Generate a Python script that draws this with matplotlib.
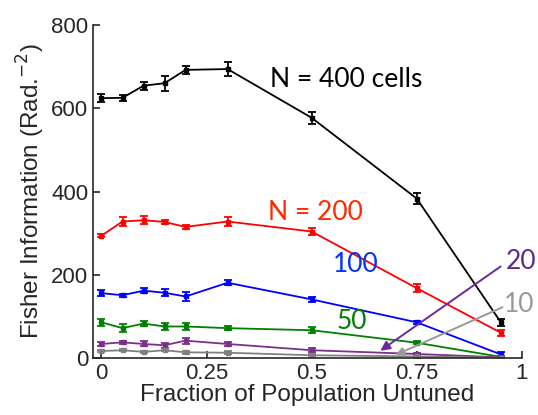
import matplotlib
matplotlib.use('Agg')
import matplotlib.pyplot as plt

frac_untuned = [0, 0.05, 0.1, 0.15, 0.2, 0.3, 0.5, 0.75, 0.95]

fi_400 = [624, 625, 654, 660, 692, 694, 577, 383, 86]
err_400 = [9, 7, 10, 18, 9, 16, 14, 14, 9]
fi_200 = [294, 328, 331, 327, 315, 328, 304, 168, 61]
err_200 = [4, 10, 10, 4, 5, 10, 9, 10, 7]
fi_100 = [156, 151, 162, 157, 148, 181, 141, 86, 9]
err_100 = [7, 4, 6, 9, 11, 6, 6, 3, 6]
fi_50 = [86, 72, 83, 76, 76, 72, 67, 37, 3]
err_50 = [8, 9, 6, 8, 8, 4, 7, 3, 3]
fi_20 = [34, 38, 34, 31, 42, 34, 19, 10, 2]
err_20 = [5, 4, 6, 6, 7, 4, 5, 3, 2]
fi_10 = [17, 19, 15, 19, 14, 13, 7, 4, 1]
err_10 = [3, 3, 3, 3, 3, 3, 3, 3, 2]

series = [
	(fi_400, err_400, 'black'),
	(fi_200, err_200, '#ff0000'),
	(fi_100, err_100, '#0000ff'),
	(fi_50, err_50, '#008000'),
	(fi_20, err_20, '#7e2f8e'),
	(fi_10, err_10, '#808080'),
]

plt.rcParams['font.family'] = ['Liberation Sans', 'DejaVu Sans']

fig = plt.figure(figsize=(5.38, 4.15), dpi=100)
ax = fig.add_axes([0.173, 0.137, 0.797, 0.803])

for vals, errs, col in series:
	ax.errorbar(frac_untuned, vals, yerr=errs, color=col, lw=1.3,
		elinewidth=1.3, capsize=3, capthick=1.3, marker='s', ms=2.5)

# labels next to the curves
lab_font = ['Lato', 'DejaVu Sans']
ax.text(0.40, 670, 'N = 400 cells', color='black', fontsize=19, va='center', family=lab_font)
ax.text(0.396, 350, 'N = 200', color='#ff2a00', fontsize=19, va='center', family=lab_font)
ax.text(0.55, 226, '100', color='#0033ff', fontsize=19, va='center', family=lab_font)
ax.text(0.56, 88, '50', color='#008000', fontsize=19, va='center', family=lab_font)
ax.text(0.962, 233, '20', color='#5b2a8c', fontsize=19, va='center', family=lab_font, clip_on=False)
ax.text(0.958, 129, '10', color='#999999', fontsize=19, va='center', family=lab_font, clip_on=False)

ax.annotate('', xy=(0.658, 14), xytext=(0.955, 224),
	arrowprops=dict(arrowstyle='-|>', color='#6a2a9c', lw=1.4, mutation_scale=14), annotation_clip=False)
ax.annotate('', xy=(0.694, 5), xytext=(0.96, 125),
	arrowprops=dict(arrowstyle='-|>', color='#999999', lw=1.4, mutation_scale=12), annotation_clip=False)

ax.set_xlim(-0.02, 1.0)
ax.set_ylim(0, 800)
ax.set_xticks([0, 0.25, 0.5, 0.75, 1])
ax.set_xticklabels(['0', '0.25', '0.5', '0.75', '1'])
ax.set_yticks([0, 200, 400, 600, 800])
ax.spines['top'].set_visible(False)
ax.spines['right'].set_visible(False)
for s in ['left', 'bottom']:
	ax.spines[s].set_linewidth(1.2)
	ax.spines[s].set_color('#262626')
ax.tick_params(direction='in', length=5, width=1.2, colors='#262626', labelsize=16)
ax.set_xlabel('Fraction of Population Untuned', fontsize=17.5, color='#262626', labelpad=0)
ax.set_ylabel('Fisher Information (Rad.$^{-2}$)', fontsize=17.5, color='#262626', labelpad=3)

fig.savefig('out.png', dpi=100)
